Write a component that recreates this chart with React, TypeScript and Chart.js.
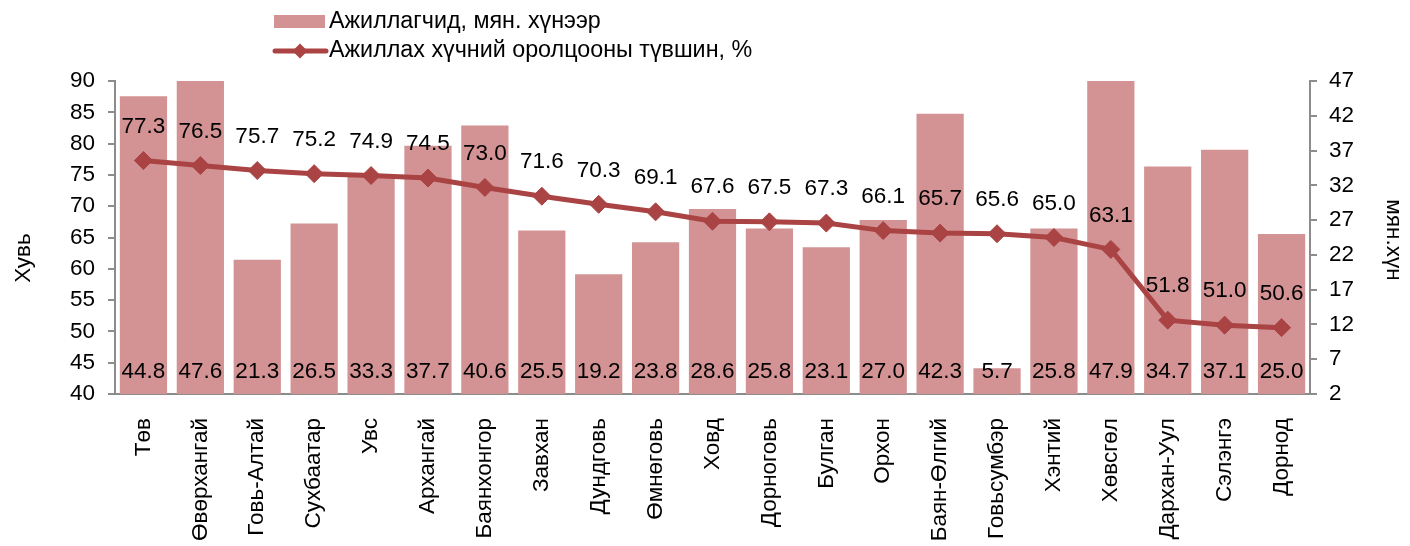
import React, { useEffect, useRef } from "react";
import { Chart, registerables } from "chart.js";

Chart.register(...registerables);

const categories = [
  "Төв", "Өвөрхангай", "Говь-Алтай", "Сухбаатар", "Увс", "Архангай", "Баянхонгор",
  "Завхан", "Дундговь", "Өмнөговь", "Ховд", "Дорноговь", "Булган", "Орхон",
  "Баян-Өлгий", "Говьсумбэр", "Хэнтий", "Хөвсгөл", "Дархан-Уул", "Сэлэнгэ", "Дорнод",
];
const employed = [
  44.8, 47.6, 21.3, 26.5, 33.3, 37.7, 40.6, 25.5, 19.2, 23.8, 28.6, 25.8, 23.1, 27.0,
  42.3, 5.7, 25.8, 47.9, 34.7, 37.1, 25.0,
];
const participation = [
  77.3, 76.5, 75.7, 75.2, 74.9, 74.5, 73.0, 71.6, 70.3, 69.1, 67.6, 67.5, 67.3, 66.1,
  65.7, 65.6, 65.0, 63.1, 51.8, 51.0, 50.6,
];
const rightTicks = [2, 7, 12, 17, 22, 27, 32, 37, 42, 47];
const barLabel = "Ажиллагчид, мян. хүнээр";
const lineLabel = "Ажиллах хүчний оролцооны түвшин, %";
const leftTitle = "Хувь";
const rightTitle = "мян.хүн";

const FONT = "'Liberation Sans', Arial, sans-serif";
const FS = 22.5;
const LEG_FS = 23.3;
const BAR_COLOR = "#D39293";
const LINE_COLOR = "#AA4343";
const AXIS_COLOR = "#8C8C8C";

const overlayPlugin = {
  id: "overlay",
  afterDatasetsDraw(chart: any) {
    const ctx = chart.ctx;
    const x = chart.scales.x;
    const yl = chart.scales.y;
    ctx.save();
    ctx.font = `${FS}px ${FONT}`;
    ctx.fillStyle = "#000";
    ctx.textAlign = "center";
    ctx.textBaseline = "middle";
    const bottom = chart.chartArea.bottom;
    categories.forEach((_, i) => {
      const cx = x.getPixelForValue(i);
      ctx.fillText(employed[i].toFixed(1), cx, bottom - 22);
      const py = yl.getPixelForValue(participation[i]);
      ctx.fillText(participation[i].toFixed(1), cx, py - 34);
    });
    ctx.restore();
  },
  afterDraw(chart: any) {
    const ctx = chart.ctx;
    ctx.save();
    ctx.font = `${LEG_FS}px ${FONT}`;
    ctx.fillStyle = "#000";
    ctx.textBaseline = "middle";
    // legend
    ctx.fillStyle = BAR_COLOR;
    ctx.fillRect(274, 15, 51, 13);
    ctx.fillStyle = "#000";
    ctx.textAlign = "left";
    ctx.fillText(barLabel, 329, 22);
    ctx.strokeStyle = LINE_COLOR;
    ctx.lineWidth = 5;
    ctx.lineCap = "round";
    ctx.beginPath();
    ctx.moveTo(275, 51);
    ctx.lineTo(326, 51);
    ctx.stroke();
    ctx.fillStyle = LINE_COLOR;
    ctx.beginPath();
    ctx.moveTo(300, 43.5);
    ctx.lineTo(307.5, 51);
    ctx.lineTo(300, 58.5);
    ctx.lineTo(292.5, 51);
    ctx.closePath();
    ctx.fill();
    ctx.fillStyle = "#000";
    ctx.fillText(lineLabel, 329, 51);
    // axis titles
    ctx.font = `${FS}px ${FONT}`;
    ctx.textAlign = "center";
    ctx.save();
    ctx.translate(24, 258);
    ctx.rotate(-Math.PI / 2);
    ctx.fillText(leftTitle, 0, 0);
    ctx.restore();
    ctx.save();
    ctx.translate(1393, 240);
    ctx.rotate(Math.PI / 2);
    ctx.fillText(rightTitle, 0, 0);
    ctx.restore();
    ctx.restore();
  },
};

export default function App() {
  const ref = useRef<HTMLCanvasElement>(null);
  useEffect(() => {
    document.body.style.margin = "0";
    const chart = new Chart(ref.current!, {
      type: "bar",
      data: {
        labels: categories,
        datasets: [
          {
            type: "line",
            label: lineLabel,
            data: participation,
            yAxisID: "y",
            borderColor: LINE_COLOR,
            backgroundColor: LINE_COLOR,
            borderWidth: 5,
            pointStyle: "rectRot",
            pointRadius: 9,
            pointBackgroundColor: LINE_COLOR,
            pointBorderColor: LINE_COLOR,
            pointBorderWidth: 1,
            tension: 0,
            order: 0,
          } as any,
          {
            type: "bar",
            label: barLabel,
            data: employed,
            yAxisID: "y1",
            backgroundColor: BAR_COLOR,
            barPercentage: 0.83,
            categoryPercentage: 1,
            order: 1,
          },
        ],
      },
      options: {
        responsive: false,
        animation: false,
        layout: { padding: { top: 81, left: 0, right: 0, bottom: 0 } },
        plugins: { legend: { display: false }, tooltip: { enabled: false }, title: { display: false } },
        scales: {
          x: {
            type: "category",
            offset: true,
            grid: { display: true, drawOnChartArea: false, drawTicks: false },
            border: { display: true, color: AXIS_COLOR, width: 2 },
            ticks: {
              minRotation: 90,
              maxRotation: 90,
              autoSkip: false,
              padding: 24,
              color: "#000",
              font: { size: FS, family: FONT },
            },
            afterFit: (s: any) => { s.height = 152; },
          },
          y: {
            position: "left",
            min: 40,
            max: 90,
            ticks: { stepSize: 5, padding: 13, color: "#000", font: { size: FS, family: FONT } },
            grid: { drawOnChartArea: false, drawTicks: true, tickLength: 7, color: AXIS_COLOR, lineWidth: 2 },
            border: { display: true, color: AXIS_COLOR, width: 2 },
            afterFit: (s: any) => { s.width = 115; },
          },
          y1: {
            position: "right",
            min: 2,
            max: 47,
            ticks: { padding: 12, color: "#000", font: { size: FS, family: FONT } },
            afterBuildTicks: (s: any) => { s.ticks = rightTicks.map((v) => ({ value: v })); },
            grid: { drawOnChartArea: false, drawTicks: true, tickLength: 7, color: AXIS_COLOR, lineWidth: 2 },
            border: { display: true, color: AXIS_COLOR, width: 2 },
            afterFit: (s: any) => { s.width = 100; },
          },
        },
      },
      plugins: [overlayPlugin],
    });
    return () => chart.destroy();
  }, []);
  return (
    <div style={{ width: 1410, height: 546 }}>
      <canvas ref={ref} width={1410} height={546} />
    </div>
  );
}
